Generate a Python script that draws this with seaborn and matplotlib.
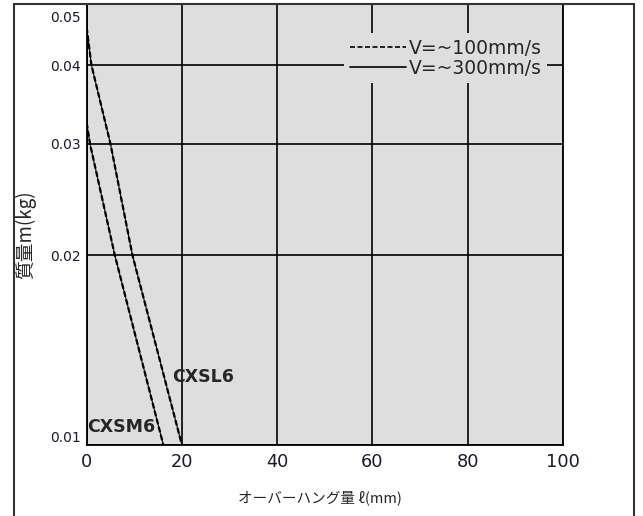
"""Overhang vs. load mass chart (CXSM6 / CXSL6)"""

import numpy as np
import pandas as pd
import seaborn as sns
import matplotlib.pyplot as plt
import matplotlib.transforms as mtransforms
from matplotlib.lines import Line2D
from matplotlib.patches import Rectangle

# values
models = ['CXSL6', 'CXSM6']
cxsl6_x = [0, 1.0, 5.0, 9.6, 20.0]
cxsl6_y = [0.0459, 0.040, 0.030, 0.020, 0.010]
cxsm6_x = [0, 0.7, 5.9, 16.1]
cxsm6_y = [0.0324, 0.030, 0.020, 0.010]
speeds = ['V=~100mm/s', 'V=~300mm/s']

x_ticks = [0, 20, 40, 60, 80, 100]
y_ticks = [0.01, 0.02, 0.03, 0.04, 0.05]
y_tick_labels = ['0.01', '0.02', '0.03', '0.04', '0.05']

label_pos = {'CXSL6': (17.9, 0.0128), 'CXSM6': (0.0, 0.01066)}

sns.set_style('white')
plt.rcParams['font.family'] = ['DejaVu Sans', 'Noto Sans CJK JP']


def build_frame():
    """Both speeds follow the same curve for each model."""
    rows = []
    for speed in speeds:
        for x, y in zip(cxsl6_x, cxsl6_y):
            rows.append(['CXSL6', speed, x, y])
        for x, y in zip(cxsm6_x, cxsm6_y):
            rows.append(['CXSM6', speed, x, y])
    return pd.DataFrame(rows, columns=['model', 'speed', 'x', 'y'])


df = build_frame()

fig = plt.figure(figsize=(6.43, 5.16), dpi=100)
ax = fig.add_axes([0.1348, 0.1376, 0.7407, 0.8547])
ax.set_facecolor('#dedede')

styles = {speeds[0]: ('--', 1.6), speeds[1]: ('-', 0.8)}
for speed in [speeds[1], speeds[0]]:
    ls, lw = styles[speed]
    sub = df[df['speed'] == speed]
    sns.lineplot(data=sub, x='x', y='y', units='model', estimator=None,
                 color='black', linestyle=ls, lw=lw, ax=ax, legend=False)
for ln in ax.lines:
    if ln.get_linestyle() == '--':
        ln.set_dashes((2.5, 1.2))

ax.set_yscale('log')
ax.set_xlim(0, 100)
ax.set_ylim(0.01, 0.05)
ax.set_xticks(x_ticks)
ax.set_xticklabels([str(t) for t in x_ticks], fontsize=12.8)
ax.set_yticks(y_ticks)
ax.set_yticklabels(y_tick_labels, fontsize=10)
ax.yaxis.set_minor_locator(plt.NullLocator())
ax.tick_params(axis='both', length=0, colors='#1a1a2e')
ax.tick_params(axis='x', pad=6)
ax.tick_params(axis='y', pad=4)
ylabels = ax.get_yticklabels()
ylabels[0].set_va('bottom')
ylabels[-1].set_va('top')
shift = mtransforms.ScaledTranslation(0, -5 / 72, fig.dpi_scale_trans)
ylabels[-1].set_transform(ylabels[-1].get_transform() + shift)
ax.grid(True, color='black', lw=1.2)
for sp in ax.spines.values():
    sp.set_color('black')
    sp.set_linewidth(1.3)

for m in models:
    x, y = label_pos[m]
    ax.text(x, y, m, fontsize=12.5, fontweight='bold', va='center', ha='left')

ax.set_xlabel('オーバーハング量 ℓ(mm)', fontsize=10.5,
              family=['Noto Sans CJK JP', 'DejaVu Sans'])
ax.xaxis.set_label_coords(0.49, -0.102)
ax.set_ylabel('質量m(kg)', fontsize=13.5,
              family=['Noto Sans CJK JP', 'DejaVu Sans'])
ax.yaxis.set_label_coords(-0.105, 0.476)

handles = [Line2D([], [], color='black', lw=1.2, linestyle=(0, (3, 1.5))),
           Line2D([], [], color='black', lw=1.2)]
leg = ax.legend(handles, speeds, loc='upper right', bbox_to_anchor=(0.967, 0.934),
                fontsize=13.5, frameon=True, facecolor='#dedede', edgecolor='none',
                framealpha=1, fancybox=False, handlelength=3.0, handletextpad=0.15,
                labelspacing=0.05, borderpad=0.3, borderaxespad=0)

fig.patches.append(Rectangle((0.0218, -0.05), 0.964, 1.0422, transform=fig.transFigure,
                             fill=False, edgecolor='#333333', lw=1.5))

plt.savefig('out.png', dpi=100)
